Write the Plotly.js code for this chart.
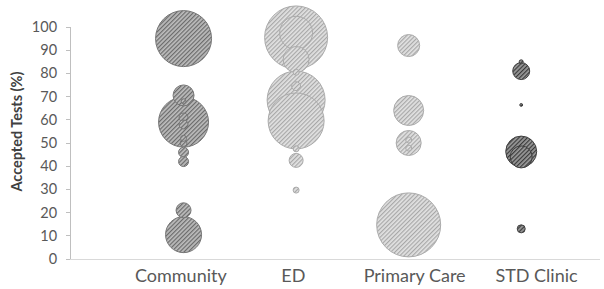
<!DOCTYPE html>
<html>
<head>
<meta charset="utf-8">
<script src="https://cdn.plot.ly/plotly-3.0.1.min.js"></script>
<style>
html,body{margin:0;padding:0;background:#fff;}
#chart{width:604px;height:289px;}
</style>
</head>
<body>
<div id="chart"></div>
<script>
// ---- data ----
var categories = ["Community", "ED", "Primary Care", "STD Clinic"];

var communityAccepted = [95, 70.5, 68, 59, 61, 58, 52, 50, 46, 42, 21, 10.5];
var communitySize     = [784, 110, 6, 625, 20, 20, 9, 12, 25, 25, 56, 324];

var edAccepted = [95.5, 97.5, 86, 80.5, 74.5, 68.5, 59.5, 47.5, 42.5, 29.7];
var edSize     = [992, 272, 169, 9, 20, 841, 784, 9, 49, 9];

var primaryAccepted = [92, 64, 50, 51.3, 47.8, 14.7];
var primarySize     = [121, 225, 156, 9, 9, 1024];

var stdAccepted = [81, 85, 66.4, 46.3, 44, 13];
var stdSize     = [72, 4, 2, 240, 121, 16];

var yTicks = [0, 10, 20, 30, 40, 50, 60, 70, 80, 90, 100];

// ---- build traces ----
var seriesAccepted = [communityAccepted, edAccepted, primaryAccepted, stdAccepted];
var seriesSize = [communitySize, edSize, primarySize, stdSize];
var fills = ["#9a9a9a", "#d0d0d0", "#d0d0d0", "#7a7a7a"];
var lines = ["#767676", "#ababab", "#ababab", "#3f3f3f"];
var patIds = ["hatchDark", "hatchLight", "hatchLight", "hatchDarker"];

var traces = seriesAccepted.map(function (acc, i) {
  var idx = acc.map(function (_, k) { return k; });
  idx.sort(function (a, b) { return seriesSize[i][b] - seriesSize[i][a]; });
  return {
    type: "scatter",
    mode: "markers",
    x: idx.map(function () { return i + 1; }),
    y: idx.map(function (k) { return acc[k]; }),
    cliponaxis: false,
    hoverinfo: "skip",
    marker: {
      size: idx.map(function (k) { return seriesSize[i][k]; }),
      sizemode: "area",
      sizeref: 0.5,
      color: fills[i],
      opacity: 1,
      line: { color: lines[i], width: 1 }
    }
  };
});

var font = 'Lato, "Open Sans", sans-serif';

var layout = {
  width: 604,
  height: 289,
  margin: { l: 71, r: 4, t: 27, b: 30 },
  paper_bgcolor: "#ffffff",
  plot_bgcolor: "#ffffff",
  showlegend: false,
  font: { family: font, color: "#595959" },
  xaxis: {
    range: [0, 4.7],
    showgrid: false,
    zeroline: false,
    showline: true,
    linecolor: "#d9d9d9",
    linewidth: 1,
    ticks: "",
    tickmode: "array",
    tickvals: [0.976, 1.975, 3.053, 4.136],
    ticktext: categories,
    tickfont: { family: font, size: 18, color: "#595959" },
    fixedrange: true
  },
  yaxis: {
    range: [0, 100],
    showgrid: false,
    zeroline: false,
    showline: true,
    linecolor: "#bfbfbf",
    linewidth: 1,
    ticks: "outside",
    ticklen: 4,
    tickcolor: "#bfbfbf",
    tickmode: "array",
    tickvals: yTicks,
    ticktext: yTicks.map(String),
    tickfont: { family: font, size: 14.5, color: "#595959" },
    ticklabelstandoff: 6,
    fixedrange: true
  },
  annotations: [{
    text: "<b>Accepted Tests (%)</b>",
    xref: "paper", yref: "paper",
    x: -0.102, y: 0.545,
    xanchor: "center", yanchor: "middle",
    textangle: -90,
    showarrow: false,
    font: { family: font, size: 14.5, color: "#404040" }
  }]
};

function addPatterns(gd) {
  var svgNS = "http://www.w3.org/2000/svg";
  var svg = gd.querySelector(".main-svg");
  var defs = svg.querySelector("defs");
  if (!defs) { defs = document.createElementNS(svgNS, "defs"); svg.insertBefore(defs, svg.firstChild); }
  var pats = {
    hatchDark: ["#bdbdbd", "#6a6a6a"],
    hatchLight: ["#e2e2e2", "#a8a8a8"],
    hatchDarker: ["#9a9a9a", "#3a3a3a"]
  };
  Object.keys(pats).forEach(function (id) {
    var p = document.createElementNS(svgNS, "pattern");
    p.setAttribute("id", id);
    p.setAttribute("patternUnits", "userSpaceOnUse");
    p.setAttribute("width", "3");
    p.setAttribute("height", "3");
    p.setAttribute("patternTransform", "rotate(45)");
    var r = document.createElementNS(svgNS, "rect");
    r.setAttribute("width", "3"); r.setAttribute("height", "3");
    r.setAttribute("fill", pats[id][0]);
    p.appendChild(r);
    var l = document.createElementNS(svgNS, "rect");
    l.setAttribute("x", "0"); l.setAttribute("y", "0");
    l.setAttribute("width", "1.2"); l.setAttribute("height", "3");
    l.setAttribute("fill", pats[id][1]);
    p.appendChild(l);
    defs.appendChild(p);
  });
  var tr = gd.querySelectorAll(".scatterlayer .trace");
  tr.forEach(function (t, i) {
    t.querySelectorAll("path.point").forEach(function (pt) {
      pt.style.fill = "url(#" + patIds[i] + ")";
    });
  });
}

Plotly.newPlot("chart", traces, layout, { displayModeBar: false, staticPlot: true })
  .then(addPatterns);
</script>
</body>
</html>
